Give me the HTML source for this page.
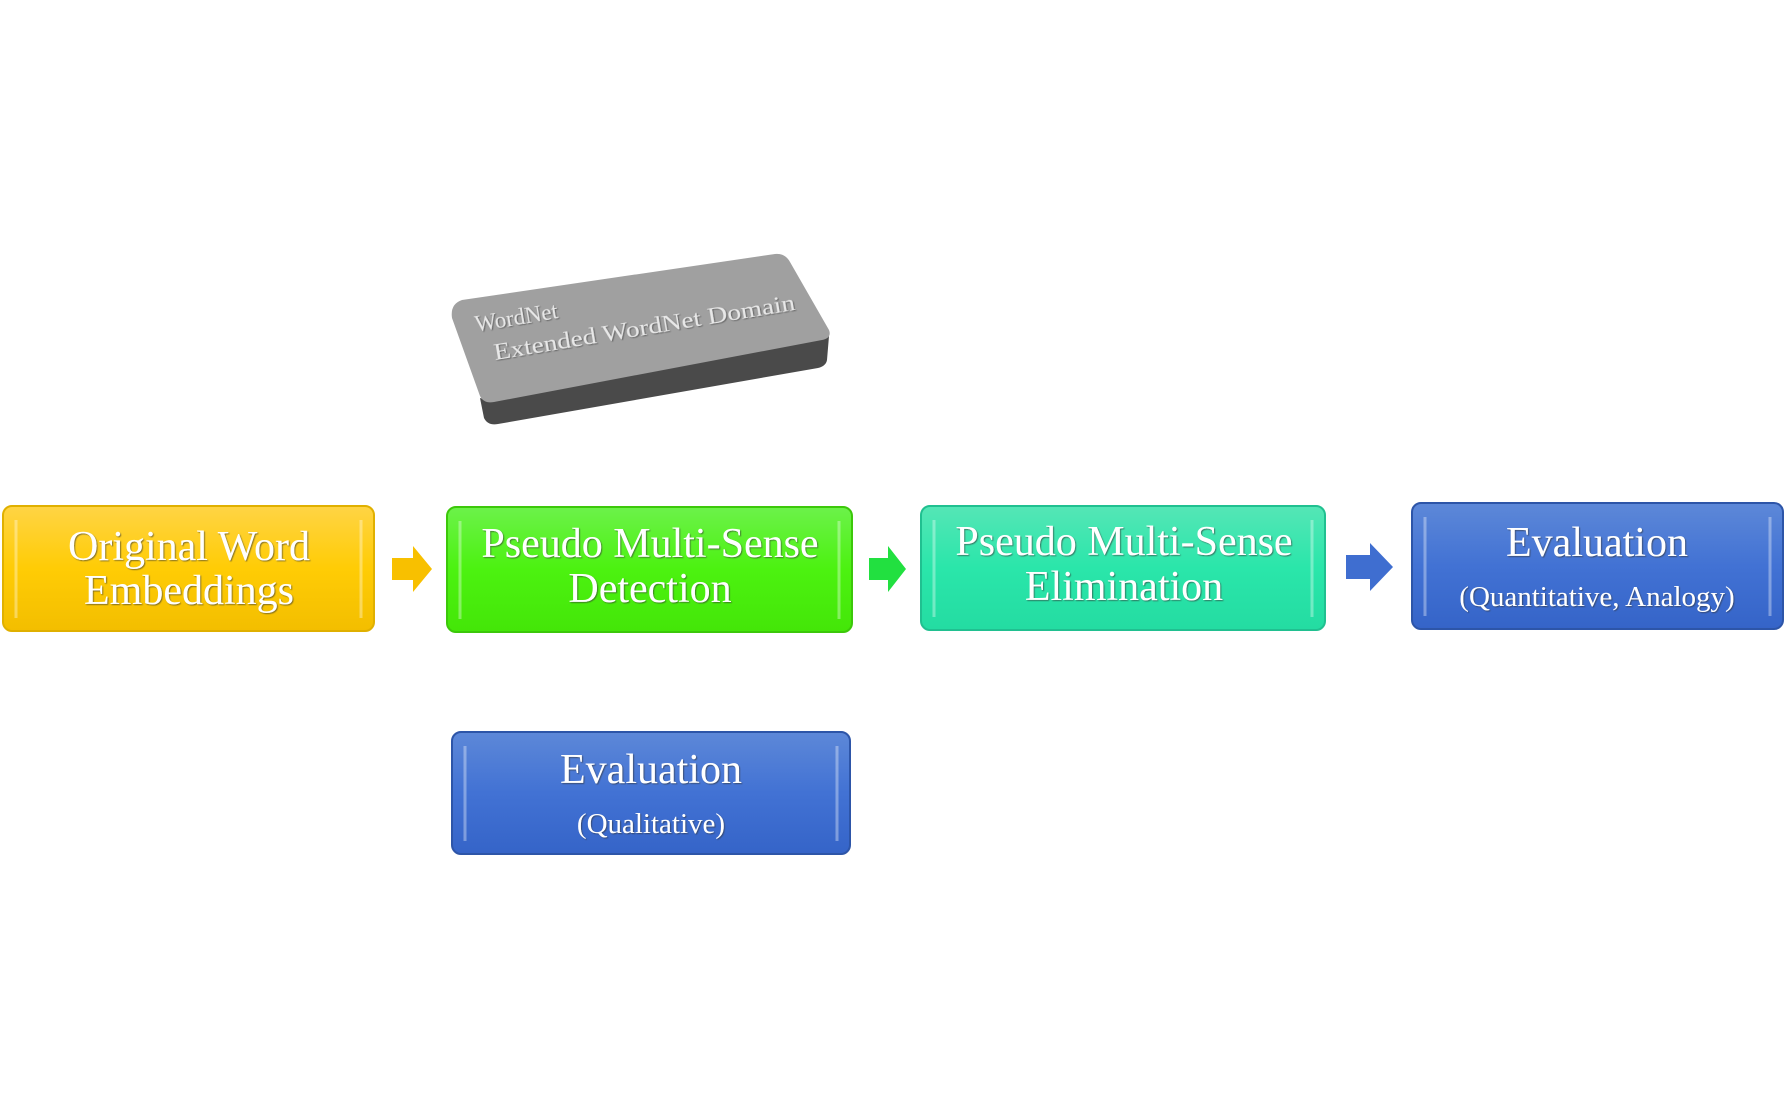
<!DOCTYPE html>
<html><head><style>
body{margin:0;width:1790px;height:1089px;background:#fff;overflow:hidden;font-family:"Liberation Serif",serif}
</style></head><body>
<svg width="1790" height="1089" xmlns="http://www.w3.org/2000/svg">
<defs>
<linearGradient id="gy" x1="0" y1="0" x2="0" y2="1"><stop offset="0" stop-color="#ffd445"/><stop offset="0.5" stop-color="#ffcc05"/><stop offset="1" stop-color="#f3be00"/></linearGradient>
<linearGradient id="gg" x1="0" y1="0" x2="0" y2="1"><stop offset="0" stop-color="#6cf24a"/><stop offset="0.5" stop-color="#4cf210"/><stop offset="1" stop-color="#44e608"/></linearGradient>
<linearGradient id="gt" x1="0" y1="0" x2="0" y2="1"><stop offset="0" stop-color="#55e6b6"/><stop offset="0.5" stop-color="#2ae6aa"/><stop offset="1" stop-color="#24dca2"/></linearGradient>
<linearGradient id="gb" x1="0" y1="0" x2="0" y2="1"><stop offset="0" stop-color="#5d88d8"/><stop offset="0.5" stop-color="#4272d4"/><stop offset="1" stop-color="#3564c8"/></linearGradient>
<filter id="ts"><feDropShadow dx="1" dy="1" stdDeviation="0.6" flood-color="#333" flood-opacity="0.6"/></filter>
</defs>
<path d="M487,400 L829,336 L827,360 Q826,366 818,368 L498,424 Q488,426 484,418 L480,398 Z" fill="#4a4a4a"/>
<path d="M462,300 L775,254 Q785,253 790,262 L829,330 Q832,338 822,340 L494,402 Q484,404 480,396 L452,318 Q450,304 462,300 Z" fill="#a0a0a0"/>
<g transform="rotate(-9.5 480 318)" fill="#e8e8e8" font-size="23" filter="url(#ts)">
<text x="474" y="331">WordNet</text>
<text x="488" y="362" textLength="305" lengthAdjust="spacingAndGlyphs">Extended WordNet Domain</text>
</g>
<g stroke-width="2">
<rect x="3" y="506" width="371" height="125" rx="9" fill="url(#gy)" stroke="#e0b000"/>
<rect x="447" y="507" width="405" height="125" rx="9" fill="url(#gg)" stroke="#3cc80a"/>
<rect x="921" y="506" width="404" height="124" rx="9" fill="url(#gt)" stroke="#20c090"/>
<rect x="1412" y="503" width="371" height="126" rx="9" fill="url(#gb)" stroke="#2d55a8"/>
<rect x="452" y="732" width="398" height="122" rx="9" fill="url(#gb)" stroke="#2d55a8"/>
</g>
<g stroke="#fff" stroke-opacity="0.35" stroke-width="3" fill="none">
<path d="M16,520 V618 M361,520 V618"/><path d="M460,521 V619 M839,521 V619"/>
<path d="M934,520 V617 M1312,520 V617"/><path d="M1425,517 V616 M1770,517 V616"/>
<path d="M465,746 V841 M837,746 V841"/>
</g>
<polygon points="392,558 413,558 413,546 432,569 413,592 413,580 392,580" fill="#f8c000"/>
<polygon points="869,558 888,558 888,546 906,569 888,592 888,580 869,580" fill="#22e040"/>
<polygon points="1346,555 1370,555 1370,543 1393,567 1370,591 1370,579 1346,579" fill="#3f6ed0"/>
<g fill="#fff" text-anchor="middle" font-size="42" filter="url(#ts)">
<text x="189" y="560">Original Word</text>
<text x="189" y="604">Embeddings</text>
<text x="650" y="557">Pseudo Multi-Sense</text>
<text x="650" y="602">Detection</text>
<text x="1124" y="555">Pseudo Multi-Sense</text>
<text x="1124" y="600">Elimination</text>
<text x="1597" y="556">Evaluation</text>
<text x="1597" y="606" font-size="29">(Quantitative, Analogy)</text>
<text x="651" y="783">Evaluation</text>
<text x="651" y="833" font-size="29">(Qualitative)</text>
</g>
</svg>
</body></html>
